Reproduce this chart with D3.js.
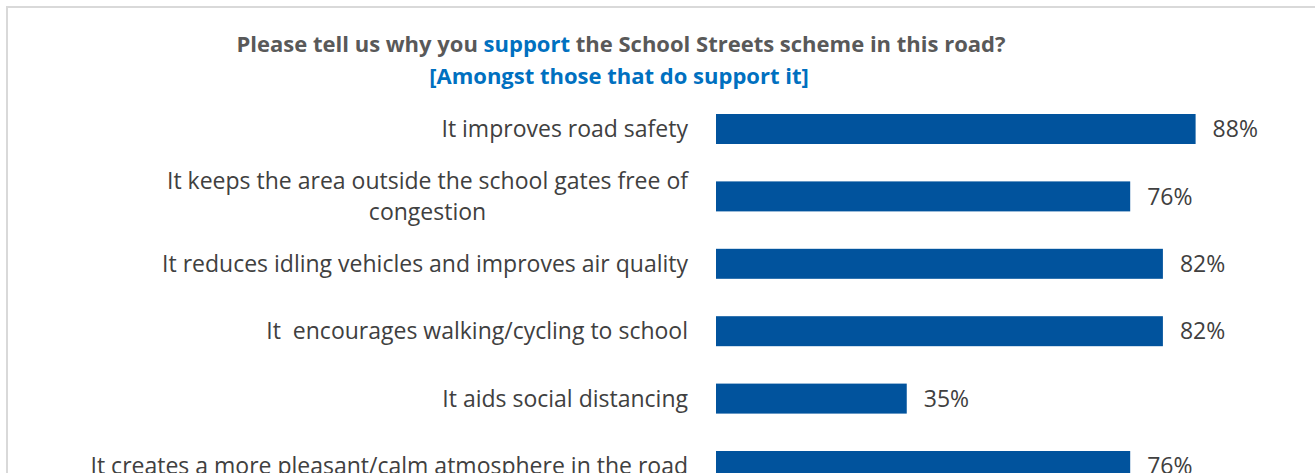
<!DOCTYPE html>
<html>
<head>
<meta charset="utf-8">
<script src="https://cdn.jsdelivr.net/npm/d3@7"></script>
<style>
  body { margin: 0; background: #fff; }
  svg { display: block; }
  text { white-space: pre; }
</style>
</head>
<body>
<svg id="chart"></svg>
<script>
const width = 1315;
const height = 473;

// data (visible part of the chart)
const categories = [
  "It improves road safety",
  "It keeps the area outside the school gates free of congestion",
  "It reduces idling vehicles and improves air quality",
  "It  encourages walking/cycling to school",
  "It aids social distancing",
  "It creates a more pleasant/calm atmosphere in the road"
];
const values = [88, 76, 82, 82, 35, 76];
// how each label wraps, as in the original
const labelLines = [
  ["It improves road safety"],
  ["It keeps the area outside the school gates free of", "congestion"],
  ["It reduces idling vehicles and improves air quality"],
  ["It  encourages walking/cycling to school"],
  ["It aids social distancing"],
  ["It creates a more pleasant/calm atmosphere in the road"]
];

const font = "'Open Sans', sans-serif";
const barColor = "#01539d";

const svg = d3.select('#chart')
    .attr('width', width)
    .attr('height', height);

// chart area frame (runs off the right and bottom edges)
svg.append('rect')
    .attr('x', 7)
    .attr('y', 7)
    .attr('width', width + 20)
    .attr('height', height + 20)
    .attr('fill', '#fff')
    .attr('stroke', '#d9d9d9')
    .attr('stroke-width', 2);

// title
const title = svg.append('text')
    .attr('x', 621)
    .attr('y', 52)
    .attr('text-anchor', 'middle')
    .style('font-family', font)
    .style('font-weight', 'bold')
    .style('font-size', '22px')
    .style('fill', '#595959');
title.append('tspan').text('Please tell us why you ');
title.append('tspan').style('fill', '#0070c0').text('support');
title.append('tspan').text(' the School Streets scheme in this road?');

svg.append('text')
    .attr('x', 619)
    .attr('y', 84)
    .attr('text-anchor', 'middle')
    .style('font-family', font)
    .style('font-weight', 'bold')
    .style('font-size', '22px')
    .style('fill', '#0070c0')
    .text('[Amongst those that do support it]');

const x = d3.scaleLinear()
    .domain([0, 100])
    .range([716, 1261]);

const step = 67.4;
const y = d3.scaleBand()
    .domain(categories)
    .range([95.3, 95.3 + step * categories.length])
    .paddingInner(0.555)
    .paddingOuter(0.2775);

const g = svg.append('g');

g.selectAll('rect.bar')
    .data(values)
    .enter().append('rect')
    .attr('class', 'bar')
    .attr('x', x(0))
    .attr('y', (d, i) => y(categories[i]))
    .attr('width', d => x(d) - x(0))
    .attr('height', y.bandwidth())
    .attr('fill', barColor);

// value labels
g.selectAll('text.value')
    .data(values)
    .enter().append('text')
    .attr('class', 'value')
    .attr('x', d => x(d) + 17)
    .attr('y', (d, i) => y(categories[i]) + y.bandwidth() / 2)
    .attr('dy', '0.36em')
    .style('font-family', font)
    .style('font-size', '23px')
    .style('fill', '#404040')
    .text(d => d + '%');

// category labels: block right aligned, lines centred inside it
const labels = g.selectAll('g.cat')
    .data(labelLines)
    .enter().append('g')
    .attr('class', 'cat');

labels.each(function(lines, i) {
    const grp = d3.select(this);
    const cy = y(categories[i]) + y.bandwidth() / 2;
    const lineH = 31;
    const t = grp.selectAll('text')
        .data(lines)
        .enter().append('text')
        .attr('y', (d, j) => cy + (j - (lines.length - 1) / 2) * lineH)
        .attr('dy', '0.36em')
        .attr('text-anchor', 'middle')
        .style('font-family', font)
        .style('font-size', '23px')
        .style('fill', '#404040')
        .text(d => d);
    let maxW = 0;
    t.each(function() { maxW = Math.max(maxW, this.getComputedTextLength()); });
    t.attr('x', 688 - maxW / 2);
});
</script>
</body>
</html>
